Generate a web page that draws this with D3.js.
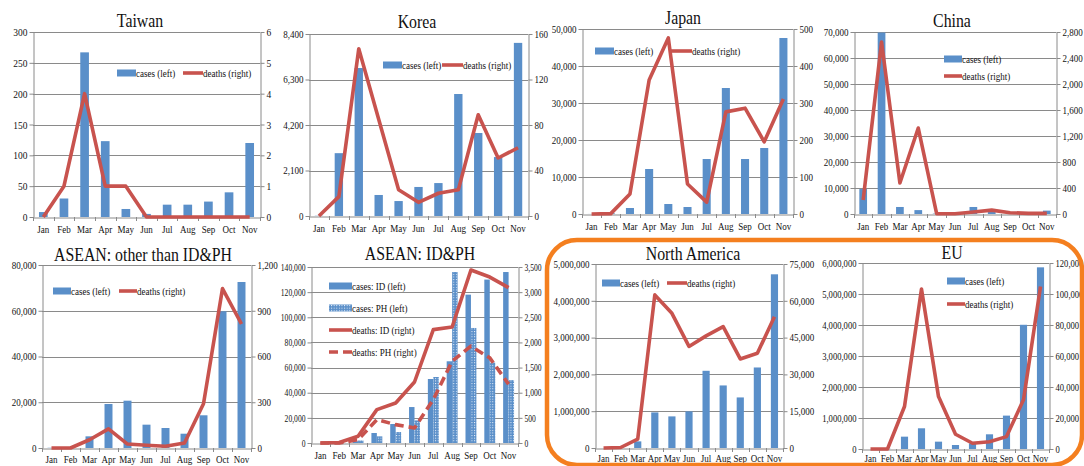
<!DOCTYPE html>
<html>
<head>
<meta charset="utf-8">
<script src="https://cdn.jsdelivr.net/npm/d3@7"></script>
<style>
  body { margin: 0; background: #fff; }
  svg { display: block; }
  text { font-family: "Liberation Serif", "Times New Roman", serif; fill: #111; }
</style>
</head>
<body>
<svg id="chart" width="1084" height="466"></svg>
<script>
// ---- data: monthly COVID-19 cases (left axis) and deaths (right axis), 2020 ----
const months = ["Jan", "Feb", "Mar", "Apr", "May", "Jun", "Jul", "Aug", "Sep", "Oct", "Nov"];

const taiwanCases  = [8, 30, 267, 123, 13, 5, 20, 20, 25, 40, 120];
const taiwanDeaths = [0, 1, 4, 1, 1, 0, 0, 0, 0, 0, 0];
const taiwanCaseTicks  = [0, 50, 100, 150, 200, 250, 300];
const taiwanDeathTicks = [0, 1, 2, 3, 4, 5, 6];

const koreaCases  = [11, 2900, 6830, 970, 690, 1340, 1520, 5630, 3830, 2720, 7990];
const koreaDeaths = [0, 17, 147, 85, 23, 12, 20, 23, 89, 51, 60];
const koreaCaseTicks  = [0, 2100, 4200, 6300, 8400];
const koreaDeathTicks = [0, 40, 80, 120, 160];

const japanCases  = [15, 200, 1620, 12160, 2700, 1890, 14860, 34050, 14860, 17840, 47570];
const japanDeaths = [0, 1, 54, 362, 476, 81, 32, 276, 286, 195, 311];
const japanCaseTicks  = [0, 10000, 20000, 30000, 40000, 50000];
const japanDeathTicks = [0, 100, 200, 300, 400, 500];

const chinaCases  = [9600, 69800, 2700, 1500, 150, 300, 2700, 1500, 300, 250, 1300];
const chinaDeaths = [215, 2646, 477, 1323, 5, 5, 30, 60, 20, 10, 10];
const chinaCaseTicks  = [0, 10000, 20000, 30000, 40000, 50000, 60000, 70000];
const chinaDeathTicks = [0, 400, 800, 1200, 1600, 2000, 2400, 2800];

const aseanOtherCases  = [100, 200, 5100, 19230, 20680, 10200, 8740, 6250, 14300, 59760, 72570];
const aseanOtherDeaths = [0, 0, 54, 125, 26, 18, 11, 33, 290, 1045, 813];
const aseanOtherCaseTicks  = [0, 20000, 40000, 60000, 80000];
const aseanOtherDeathTicks = [0, 300, 600, 900, 1200];

const indonesiaCases   = [0, 0, 1400, 7950, 15100, 28600, 50900, 65000, 118000, 130000, 136000];
const philippinesCases = [0, 0, 2000, 5300, 8750, 18000, 52500, 136000, 91500, 64000, 50000];
const indonesiaDeaths   = [0, 10, 133, 663, 796, 1213, 2254, 2307, 3440, 3300, 3090];
const philippinesDeaths = [0, 0, 66, 465, 365, 300, 863, 1627, 1925, 1693, 1170];
const idphCaseTicks  = [0, 20000, 40000, 60000, 80000, 100000, 120000, 140000];
const idphDeathTicks = [0, 500, 1000, 1500, 2000, 2500, 3000, 3500];

const northAmericaCases  = [10, 50, 180000, 967000, 859000, 995000, 2098000, 1700000, 1374000, 2188000, 4720000];
const northAmericaDeaths = [0, 200, 3660, 62400, 54900, 41400, 45700, 49500, 36300, 38600, 53500];
const northAmericaCaseTicks  = [0, 1000000, 2000000, 3000000, 4000000, 5000000];
const northAmericaDeathTicks = [0, 15000, 30000, 45000, 60000, 75000];

const euCases  = [20, 5000, 398000, 668000, 237000, 129000, 180000, 474000, 1077000, 4007000, 5860000];
const euDeaths = [0, 0, 27400, 103200, 33800, 9500, 3700, 4700, 8000, 31700, 104900];
const euCaseTicks  = [0, 1000000, 2000000, 3000000, 4000000, 5000000, 6000000];
const euDeathTicks = [0, 20000, 40000, 60000, 80000, 100000, 120000];

// ---- styling ----
const BAR = "#5a8fc9";
const LINE = "#c8534e";
const GRID = "#8a8a8a";
const SQUEEZE = 0.86;          // narrow serif look of the labels

const svg = d3.select("#chart");

// dotted fill used for the Philippines bars
const defs = svg.append("defs");
const pat = defs.append("pattern").attr("id", "dots")
  .attr("patternUnits", "userSpaceOnUse").attr("width", 2.6).attr("height", 2.6);
pat.append("rect").attr("width", 2.6).attr("height", 2.6).attr("fill", BAR);
pat.append("rect").attr("x", 0.9).attr("y", 0.9).attr("width", 1).attr("height", 1).attr("fill", "#eef4fb");

// ---- panel layout ----
const panels = [
  { title: "Taiwan", box: { L: 33, R: 260, T: 32, B: 217 }, titleAt: [140, 27], tickSize: 11, monthY: 15,
    leftTicks: taiwanCaseTicks, rightTicks: taiwanDeathTicks,
    bars: [{ values: taiwanCases, fill: BAR }],
    lines: [{ values: taiwanDeaths }],
    legend: [{ kind: "bar", label: "cases (left)", x: 117, y: 73, w: 19 },
             { kind: "line", label: "deaths (right)", x: 183, y: 73, w: 20 }] },
  { title: "Korea", box: { L: 309, R: 528, T: 34, B: 216 }, titleAt: [417, 28], tickSize: 10.5, monthY: 15,
    leftTicks: koreaCaseTicks, rightTicks: koreaDeathTicks,
    bars: [{ values: koreaCases, fill: BAR }],
    lines: [{ values: koreaDeaths }],
    legend: [{ kind: "bar", label: "cases (left)", x: 383, y: 65, w: 19 },
             { kind: "line", label: "deaths (right)", x: 442, y: 65, w: 21 }] },
  { title: "Japan", box: { L: 582, R: 793, T: 29, B: 214 }, titleAt: [683, 24], tickSize: 10.5, monthY: 15,
    leftTicks: japanCaseTicks, rightTicks: japanDeathTicks,
    bars: [{ values: japanCases, fill: BAR }],
    lines: [{ values: japanDeaths }],
    legend: [{ kind: "bar", label: "cases (left)", x: 595, y: 51, w: 19 },
             { kind: "line", label: "deaths (right)", x: 670, y: 51, w: 22 }] },
  { title: "China", box: { L: 854, R: 1056, T: 32, B: 214 }, titleAt: [952, 27], tickSize: 10.5, monthY: 15,
    leftTicks: chinaCaseTicks, rightTicks: chinaDeathTicks,
    bars: [{ values: chinaCases, fill: BAR }],
    lines: [{ values: chinaDeaths }],
    legend: [{ kind: "bar", label: "cases (left)", x: 944, y: 59, w: 18 },
             { kind: "line", label: "deaths (right)", x: 944, y: 76, w: 18 }] },
  { title: "ASEAN: other than ID&PH", box: { L: 42, R: 251, T: 265, B: 448 }, titleAt: [143, 261], tickSize: 10.5, monthY: 14,
    leftTicks: aseanOtherCaseTicks, rightTicks: aseanOtherDeathTicks,
    bars: [{ values: aseanOtherCases, fill: BAR }],
    lines: [{ values: aseanOtherDeaths }],
    legend: [{ kind: "bar", label: "cases (left)", x: 53, y: 291, w: 18 },
             { kind: "line", label: "deaths (right)", x: 119, y: 291, w: 18 }] },
  { title: "ASEAN: ID&PH", box: { L: 311, R: 518, T: 267, B: 443 }, titleAt: [420, 260], tickSize: 10, tickSqueeze: 0.76, monthY: 15,
    leftTicks: idphCaseTicks, rightTicks: idphDeathTicks,
    bars: [{ values: indonesiaCases, fill: BAR }, { values: philippinesCases, fill: "url(#dots)" }],
    lines: [{ values: indonesiaDeaths }, { values: philippinesDeaths, dash: "9,5" }],
    legend: [{ kind: "bar", label: "cases: ID (left)", x: 329, y: 286, w: 23 },
             { kind: "bar", label: "cases: PH (left)", x: 329, y: 308, w: 23, fill: "url(#dots)" },
             { kind: "line", label: "deaths: ID (right)", x: 329, y: 330, w: 23 },
             { kind: "line", label: "deaths: PH (right)", x: 329, y: 352, w: 23, dash: "9,5" }] },
  { title: "North America", box: { L: 595, R: 783, T: 264, B: 448 }, titleAt: [693, 260], tickSize: 10.5, monthY: 13,
    leftTicks: northAmericaCaseTicks, rightTicks: northAmericaDeathTicks,
    bars: [{ values: northAmericaCases, fill: BAR }],
    lines: [{ values: northAmericaDeaths }],
    legend: [{ kind: "bar", label: "cases (left)", x: 602, y: 283, w: 18 },
             { kind: "line", label: "deaths (right)", x: 667, y: 283, w: 20 }] },
  { title: "EU", box: { L: 862, R: 1049, T: 263, B: 449 }, titleAt: [952, 259], tickSize: 10, monthY: 12.5,
    leftTicks: euCaseTicks, rightTicks: euDeathTicks,
    bars: [{ values: euCases, fill: BAR }],
    lines: [{ values: euDeaths }],
    legend: [{ kind: "bar", label: "cases (left)", x: 947, y: 281, w: 18 },
             { kind: "line", label: "deaths (right)", x: 947, y: 304, w: 18 }] }
];

// narrow a text element horizontally around its anchor point
function squeeze(sel, k) {
  sel.each(function () {
    const t = d3.select(this);
    const x = +t.attr("x") || 0, y = +t.attr("y") || 0;
    t.attr("transform", `translate(${x},${y}) scale(${k},1)`).attr("x", 0).attr("y", 0);
  });
}

const fmt = d3.format(",");

function drawPanel(p) {
  const { L, R, T, B } = p.box;
  const g = svg.append("g");
  const x = d3.scaleBand().domain(months).range([L, R]);
  const yL = d3.scaleLinear().domain([0, d3.max(p.leftTicks)]).range([B, T]);
  const yR = d3.scaleLinear().domain([0, d3.max(p.rightTicks)]).range([B, T]);
  const step = x.step();

  // horizontal gridlines
  g.append("g").selectAll("line").data(p.leftTicks.slice(1)).join("line")
    .attr("x1", L).attr("x2", R)
    .attr("y1", d => Math.round(yL(d)) + 0.5).attr("y2", d => Math.round(yL(d)) + 0.5)
    .attr("stroke", GRID).attr("stroke-width", 1);

  // bars (one or two series side by side)
  const nb = p.bars.length;
  const bw = nb === 1 ? step * 0.42 : step * 0.29;
  p.bars.forEach((s, si) => {
    const off = nb === 1 ? -bw / 2 : (si === 0 ? -bw : 0);
    g.append("g").selectAll("rect").data(s.values).join("rect")
      .attr("x", (d, i) => x(months[i]) + step / 2 + off)
      .attr("width", bw)
      .attr("y", d => yL(d))
      .attr("height", d => B - yL(d))
      .attr("fill", s.fill);
  });

  // axes
  const tk = p.tickSqueeze || SQUEEZE;
  const left = g.append("g").attr("transform", `translate(${L + 0.5},0)`)
    .call(d3.axisLeft(yL).tickValues(p.leftTicks).tickFormat(fmt).tickSize(4).tickSizeOuter(0).tickPadding(2));
  const right = g.append("g").attr("transform", `translate(${R + 0.5},0)`)
    .call(d3.axisRight(yR).tickValues(p.rightTicks).tickFormat(fmt).tickSize(4).tickSizeOuter(0).tickPadding(2));
  [left, right].forEach(a => {
    a.select(".domain").attr("stroke", GRID);
    a.selectAll(".tick line").attr("stroke", GRID);
    a.selectAll("text").attr("font-size", p.tickSize).attr("font-family", "Liberation Serif").attr("fill", "#111");
    squeeze(a.selectAll("text"), tk);
  });

  const bottom = g.append("g").attr("transform", `translate(0,${B + 0.5})`)
    .call(d3.axisBottom(x).tickSize(0).tickPadding(0).tickSizeOuter(0));
  bottom.select(".domain").attr("stroke", GRID);
  bottom.selectAll("text").attr("font-size", 10.5).attr("font-family", "Liberation Serif")
    .attr("fill", "#111").attr("dy", null).attr("y", p.monthY);
  squeeze(bottom.selectAll("text"), SQUEEZE);
  g.append("g").selectAll("line").data(d3.range(months.length + 1)).join("line")
    .attr("x1", i => Math.round(L + i * step) + 0.5).attr("x2", i => Math.round(L + i * step) + 0.5)
    .attr("y1", B).attr("y2", B + 4).attr("stroke", GRID);

  // death lines on the right scale
  p.lines.forEach(s => {
    const line = d3.line().x((d, i) => x(months[i]) + step / 2).y(d => yR(d));
    g.append("path").datum(s.values).attr("d", line)
      .attr("fill", "none").attr("stroke", LINE).attr("stroke-width", 3.6)
      .attr("stroke-linejoin", "round")
      .attr("stroke-dasharray", s.dash || null);
  });

  // legend
  p.legend.forEach(it => {
    if (it.kind === "bar") {
      g.append("rect").attr("x", it.x).attr("y", it.y - 3.5).attr("width", it.w).attr("height", 7)
        .attr("fill", it.fill || BAR);
    } else {
      g.append("line").attr("x1", it.x).attr("x2", it.x + it.w).attr("y1", it.y).attr("y2", it.y)
        .attr("stroke", LINE).attr("stroke-width", 3.6).attr("stroke-dasharray", it.dash || null);
    }
    const t = g.append("text").attr("x", it.x + it.w).attr("y", it.y + 3.5)
      .attr("font-size", 10.5).text(it.label);
    squeeze(t, SQUEEZE);
  });

  // title
  const tt = g.append("text").attr("x", p.titleAt[0]).attr("y", p.titleAt[1])
    .attr("text-anchor", "middle").attr("font-size", 18).text(p.title);
  squeeze(tt, 0.88);
}

panels.forEach(drawPanel);

// rounded frame around the North America and EU panels
svg.append("rect").attr("x", 547).attr("y", 240).attr("width", 535).attr("height", 225)
  .attr("rx", 30).attr("ry", 30)
  .attr("fill", "none").attr("stroke", "#f47f1f").attr("stroke-width", 4.5);
</script>
</body>
</html>
